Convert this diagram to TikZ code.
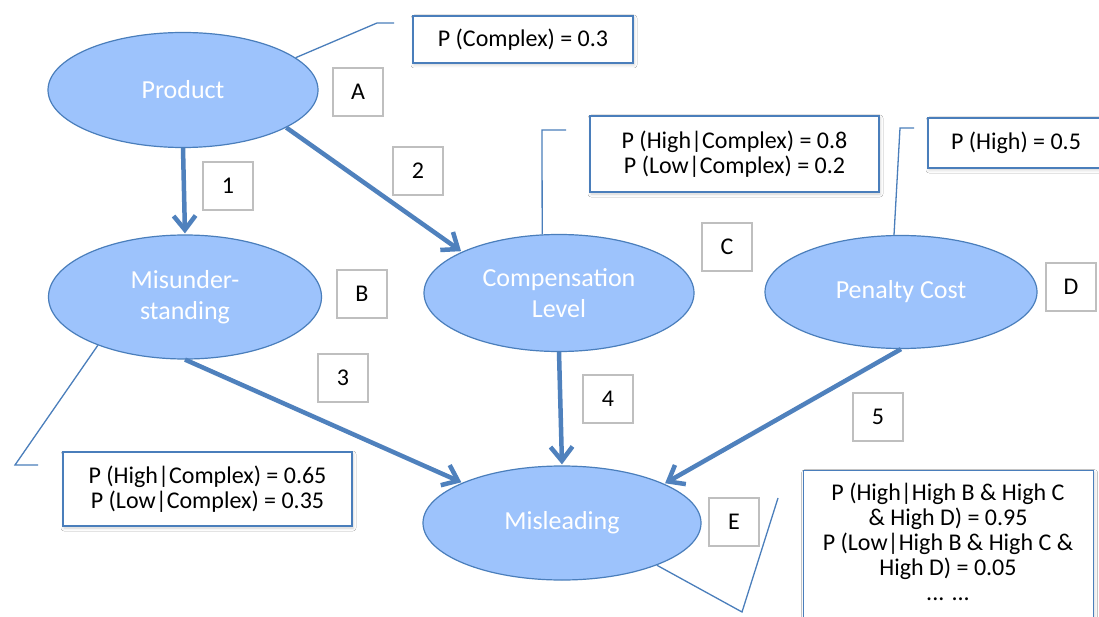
\documentclass[tikz,border=0pt]{standalone}
\usepackage{fontspec}
\setmainfont{Carlito}
\usetikzlibrary{shapes.geometric,arrows.meta,shadows.blur}
\definecolor{nodefill}{RGB}{157,195,252}
\definecolor{nodeedge}{RGB}{74,126,187}
\definecolor{arrowblue}{RGB}{79,129,189}
\definecolor{tagedge}{RGB}{191,191,191}
\tikzset{
  var/.style={ellipse, draw=nodeedge, line width=1.2pt, fill=nodefill, inner sep=0pt,
    text=white, align=center, font=\fontsize{26}{31}\selectfont},
  tag/.style={draw=tagedge, line width=1.5pt, fill=white, minimum width=50pt,
    minimum height=48pt, inner sep=0pt, font=\fontsize{24}{25}\selectfont},
  infobox/.style={draw=nodeedge, line width=1.3pt, fill=white, inner sep=0pt, align=center,
    font=\fontsize{24}{25}\selectfont,
    blur shadow={shadow xshift=1pt, shadow yshift=-2pt, shadow blur radius=3pt, shadow opacity=18}},
  infotext/.style={inner sep=0pt, align=center, font=\fontsize{24}{25}\selectfont},
  link/.style={draw=arrowblue, line width=4.5pt,
    -{Straight Barb[length=14pt, width=22pt, line width=4.5pt]}, shorten >=1pt},
  callout/.style={draw=nodeedge, line width=1.3pt}
}
\begin{document}
\begin{tikzpicture}[x=1pt, y=-1pt]
\clip (0,0) rectangle (1099,617);
\fill[white] (0,0) rectangle (1099,617);

% variables of the network
\node[var, minimum width=270pt, minimum height=115pt] (prod) at (183,90) {Product};
\node[var, minimum width=273pt, minimum height=124pt] (mis) at (185,297) {Misunder-\\standing};
\node[var, minimum width=270pt, minimum height=117pt] (comp) at (559,293) {Compensation\\Level};
\node[var, minimum width=272pt, minimum height=113pt] (pen) at (901,292) {Penalty Cost};
\node[var, minimum width=278pt, minimum height=114pt] (misl) at (562,523) {Misleading};

% probability tables
\node[infobox, minimum width=220pt, minimum height=47pt] (tA) at (523,39.5) {P (Complex) = 0.3};
\node[infobox, minimum width=289pt, minimum height=76pt] (tC) at (734.5,154) {P (High|Complex) = 0.8\\P (Low|Complex) = 0.2};
\node[infobox, minimum width=176pt, minimum height=50pt] (tD) at (1016,143) {P (High) = 0.5};
\node[infobox, minimum width=289pt, minimum height=74pt] (tB) at (207.5,489) {P (High|Complex) = 0.65\\P (Low|Complex) = 0.35};
\node[infobox, minimum width=290pt, minimum height=180pt, anchor=north west] (tE) at (803,470) {};
\node[infotext, anchor=north] (tEtext) at (948,483)
  {P (High|High B \& High C\\\& High D) = 0.95\\P (Low|High B \& High C \&\\High D) = 0.05\\... ...};

% callout leaders from variables to their tables
\coordinate (a1) at (377,23);  \coordinate (a2) at (394,23);
\coordinate (b1) at (15,465);  \coordinate (b2) at (38,465);
\coordinate (c1) at (542,130); \coordinate (c2) at (566,130);
\coordinate (d1) at (900,128); \coordinate (d2) at (914,128);
\coordinate (e1) at (742,612); \coordinate (e2) at (778,498);
\draw[callout] (prod.16.7) -- (a1) -- (a2);
\draw[callout] (mis.-151.3) -- (b1) -- (b2);
\draw[callout] (comp.106) -- (c1) -- (c2);
\draw[callout] (pen.97) -- (d1) -- (d2);
\draw[callout] (misl.-24.8) -- (e1) -- (e2);

% dependencies
\draw[link] (prod.south) -- (mis.north);
\draw[link] (prod.-20.6) -- (comp.157);
\draw[link] (mis.south) -- (misl.158.6);
\draw[link] (comp.south) -- (misl.north);
\draw[link] (pen.south) -- (misl.21.8);

% tags
\node[tag] (lA) at (358,92) {A};
\node[tag] (lB) at (362,294) {B};
\node[tag] (lC) at (727,247) {C};
\node[tag] (lD) at (1071,287) {D};
\node[tag] (lE) at (734,522) {E};
\node[tag] (l1) at (228,186) {1};
\node[tag] (l2) at (418,171) {2};
\node[tag] (l3) at (343,378) {3};
\node[tag] (l4) at (608,399) {4};
\node[tag] (l5) at (878,417) {5};
\end{tikzpicture}
\end{document}
